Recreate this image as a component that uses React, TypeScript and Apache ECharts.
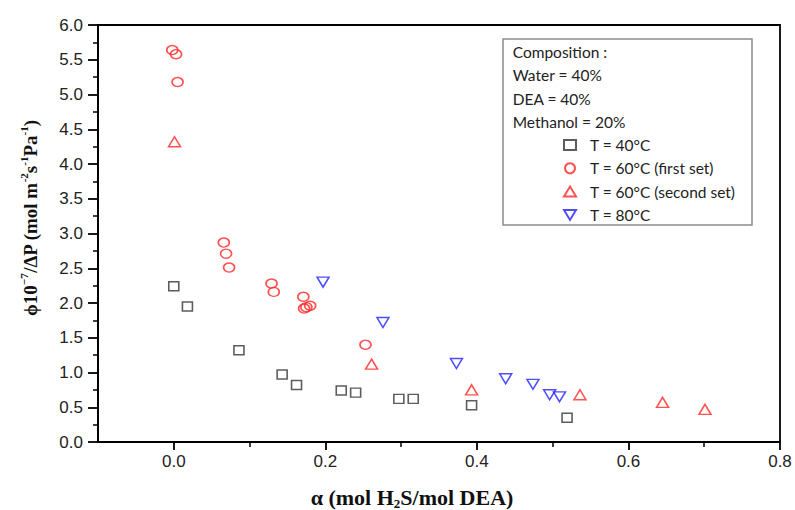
import React, { useEffect, useRef } from 'react';
import * as echarts from 'echarts';

// T = 40°C
const xT40 = [0.0, 0.018, 0.086, 0.143, 0.162, 0.221, 0.24, 0.297, 0.316, 0.393, 0.519];
const yT40 = [2.24, 1.95, 1.32, 0.97, 0.82, 0.74, 0.71, 0.62, 0.62, 0.53, 0.35];
// T = 60°C (first set)
const xT60a = [-0.002, 0.003, 0.005, 0.066, 0.069, 0.073, 0.129, 0.132, 0.171, 0.172, 0.175, 0.18, 0.253];
const yT60a = [5.64, 5.58, 5.18, 2.87, 2.71, 2.51, 2.28, 2.16, 2.09, 1.92, 1.94, 1.96, 1.4];
// T = 60°C (second set)
const xT60b = [0.001, 0.261, 0.393, 0.536, 0.645, 0.701];
const yT60b = [4.32, 1.12, 0.75, 0.68, 0.57, 0.47];
// T = 80°C
const xT80 = [0.197, 0.276, 0.373, 0.438, 0.474, 0.496, 0.509];
const yT80 = [2.3, 1.72, 1.13, 0.91, 0.83, 0.68, 0.65];

const seriesNames = ['T = 40°C', 'T = 60°C (first set)', 'T = 60°C (second set)', 'T = 80°C'];
const compositionLines = ['Composition :', 'Water = 40%', 'DEA = 40%', 'Methanol = 20%'];

const SERIF = 'Liberation Serif';
const SANS = 'Liberation Sans';
const LEG = 'Lato';
const DOWN_TRIANGLE = 'path://M0,0L12,0L6,10Z';

export default function App() {
  const ref = useRef<HTMLDivElement>(null);
  useEffect(() => {
    const chart = echarts.init(ref.current!, null, { renderer: 'svg' });
    const pts = (xs: number[], ys: number[]) => xs.map((x, i) => [x, ys[i]]);
    const hollow = (c: string) => ({ color: 'transparent', borderColor: c, borderWidth: 1.5 });
    const black = '#333333';
    const red = '#ff2626';
    const blue = '#2222ff';

    const gridL = 98;
    const gridR = 15;
    const gridT = 25;
    const gridB = 68;
    const plotW = 795 - gridL - gridR;
    const zeroLeft = gridL + (plotW * 0.1) / 0.9;

    chart.setOption({
      animation: false,
      backgroundColor: '#ffffff',
      grid: [
        { left: gridL, right: gridR, top: gridT, bottom: gridB, show: true, borderColor: '#000', borderWidth: 1.8, backgroundColor: 'transparent' },
        { left: zeroLeft, right: gridR, top: gridT, bottom: gridB, show: false },
      ],
      xAxis: [
        {
          type: 'value', gridIndex: 0, min: -0.1, max: 0.8, interval: 0.1,
          axisLine: { show: true, onZero: false, lineStyle: { color: '#000', width: 1.8 } },
          axisTick: { show: false }, axisLabel: { show: false }, splitLine: { show: false },
        },
        {
          type: 'value', gridIndex: 1, min: 0, max: 0.8, interval: 0.2,
          axisLine: { show: false, onZero: false },
          axisTick: { show: true, length: 8, lineStyle: { color: '#000', width: 1.8 } },
          minorTick: { show: true, splitNumber: 2, length: 5, lineStyle: { color: '#000', width: 1.5 } },
          axisLabel: { show: true, margin: 11, fontFamily: SANS, fontSize: 17, color: '#222', formatter: (v: number) => v.toFixed(1) },
          splitLine: { show: false },
        },
      ],
      yAxis: [
        {
          type: 'value', gridIndex: 0, min: 0, max: 6, interval: 0.5,
          axisLine: { show: true, onZero: false, lineStyle: { color: '#000', width: 1.8 } },
          axisTick: { show: true, length: 10, lineStyle: { color: '#000', width: 1.8 } },
          minorTick: { show: true, splitNumber: 2, length: 5, lineStyle: { color: '#000', width: 1.5 } },
          axisLabel: { show: true, margin: 15, fontFamily: SANS, fontSize: 17, color: '#222', formatter: (v: number) => v.toFixed(1) },
          splitLine: { show: false },
        },
        { type: 'value', gridIndex: 1, min: 0, max: 6, show: false },
      ],
      legend: {
        orient: 'vertical',
        left: 558,
        top: 132,
        itemWidth: 12,
        itemHeight: 10,
        itemGap: 7.3,
        data: [
          { name: seriesNames[0] },
          { name: seriesNames[1] },
          { name: seriesNames[2] },
          { name: seriesNames[3], icon: DOWN_TRIANGLE },
        ],
        textStyle: { fontFamily: LEG, fontSize: 15.5, color: '#222', padding: [0, 0, 0, 9] },
      },
      graphic: [
        { type: 'rect', shape: { x: 503, y: 39, width: 249, height: 186 }, style: { fill: 'none', stroke: '#8c8c8c', lineWidth: 1.5 }, z: 100 },
        ...compositionLines.map((t, i) => ({
          type: 'text', x: 512.7, y: 52 + i * 23.3, z: 100,
          style: { text: t, fontFamily: LEG, fontSize: 15.5, fill: '#222', align: 'left', verticalAlign: 'middle' },
        })),
        {
          type: 'text', x: 412, y: 497, z: 100,
          style: {
            text: '{a|α (mol H}{s|2}{a|S/mol DEA)}',
            align: 'center', verticalAlign: 'middle',
            rich: {
              a: { fontFamily: SERIF, fontWeight: 'bold', fontSize: 22, lineHeight: 26, fill: '#111' },
              s: { fontFamily: SERIF, fontWeight: 'bold', fontSize: 13, lineHeight: 13, verticalAlign: 'bottom', fill: '#111' },
            },
          },
        },
        {
          type: 'text', x: 30, y: 218, rotation: Math.PI / 2, z: 100,
          style: {
            text: '{a|ϕ10}{p|−7}{a|/ΔP (mol m}{p|-2}{a|s}{p|-1}{a|Pa}{p|-1}{a|)}',
            align: 'center', verticalAlign: 'middle',
            rich: {
              a: { fontFamily: SERIF, fontWeight: 'bold', fontSize: 19, lineHeight: 24, fill: '#111' },
              p: { fontFamily: SERIF, fontWeight: 'bold', fontSize: 11, lineHeight: 11, verticalAlign: 'top', fill: '#111' },
            },
          },
        },
      ],
      series: [
        { name: seriesNames[0], type: 'scatter', xAxisIndex: 0, yAxisIndex: 0, symbol: 'rect', symbolSize: [10, 9], itemStyle: hollow(black), data: pts(xT40, yT40), clip: false },
        { name: seriesNames[1], type: 'scatter', xAxisIndex: 0, yAxisIndex: 0, symbol: 'circle', symbolSize: [11, 9], itemStyle: hollow(red), data: pts(xT60a, yT60a), clip: false },
        { name: seriesNames[2], type: 'scatter', xAxisIndex: 0, yAxisIndex: 0, symbol: 'triangle', symbolSize: [12, 10], itemStyle: hollow(red), data: pts(xT60b, yT60b), clip: false },
        { name: seriesNames[3], type: 'scatter', xAxisIndex: 0, yAxisIndex: 0, symbol: DOWN_TRIANGLE, symbolSize: [12, 10], itemStyle: hollow(blue), data: pts(xT80, yT80), clip: false },
      ],
    });
    return () => chart.dispose();
  }, []);
  return <div ref={ref} style={{ position: 'fixed', left: 0, top: 0, width: 795, height: 510 }} />;
}
